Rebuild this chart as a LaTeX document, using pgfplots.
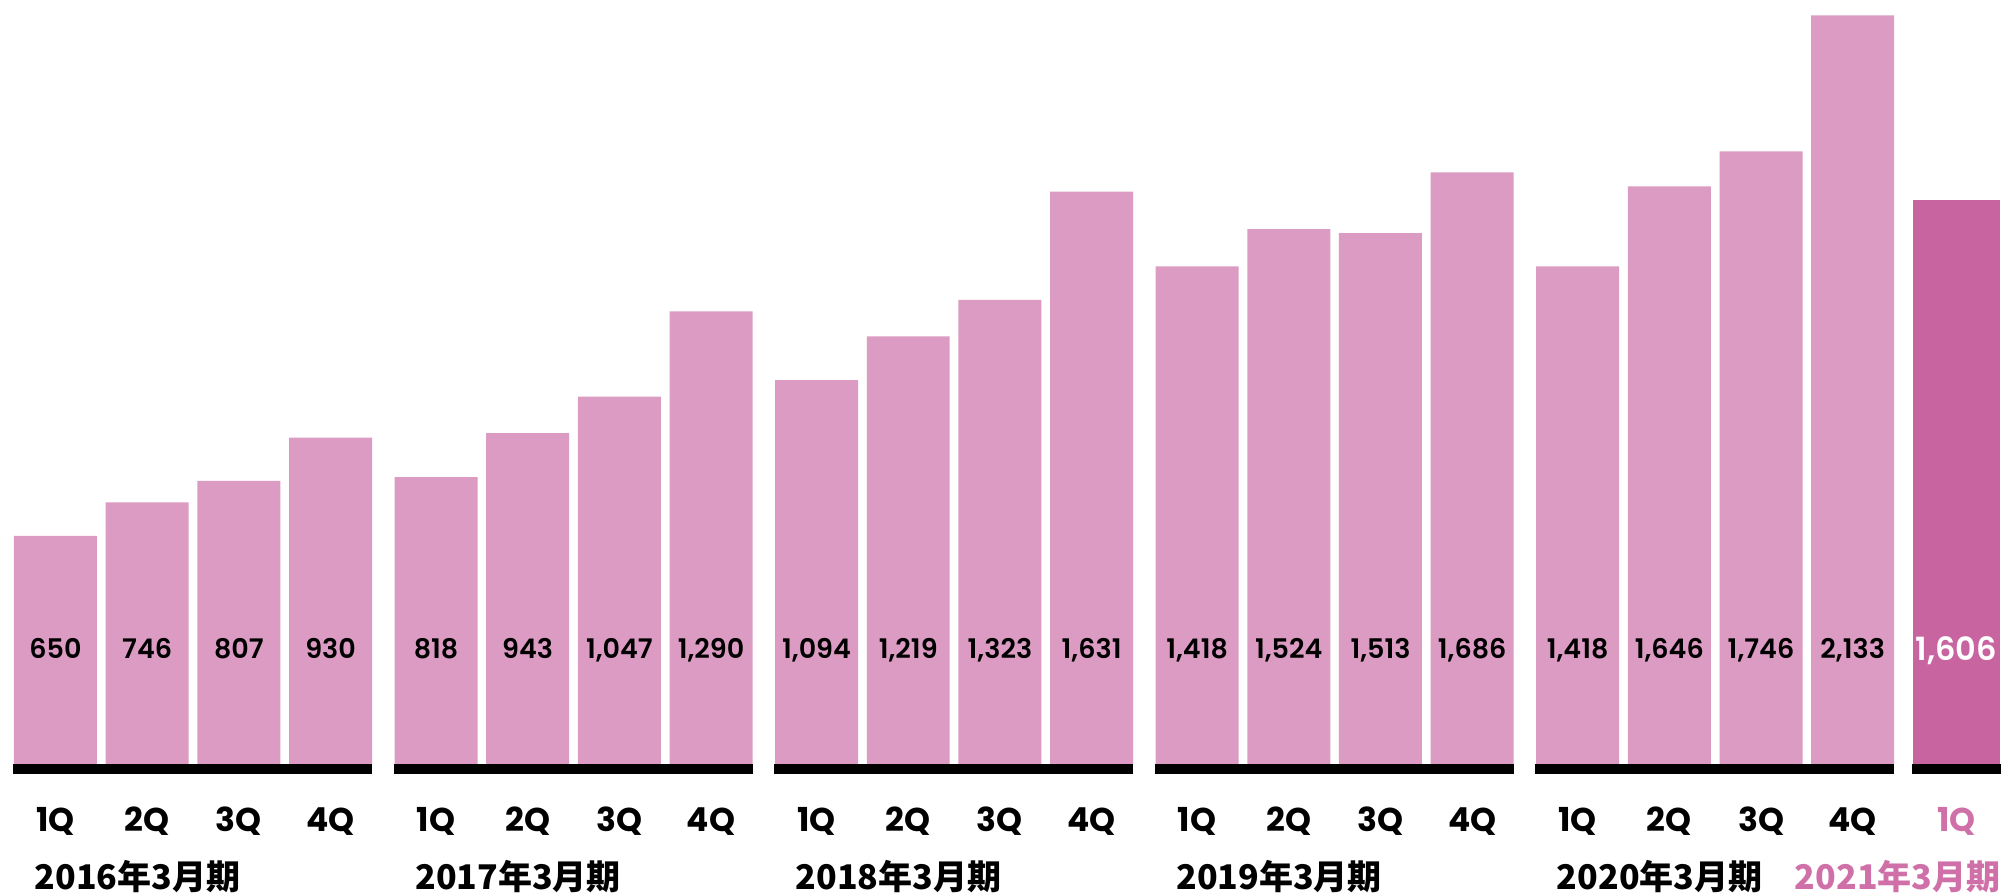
\documentclass[border=0pt]{standalone}
\usepackage{pgfplots}
\usepackage{pgfplotstable}
\pgfplotsset{compat=1.18}
\usepackage{fontspec}
\newfontfamily\pop{Poppins}
\newfontfamily\popm{Poppins}[UprightFont=* SemiBold, BoldFont=* SemiBold]
\newfontfamily\cjk{Noto Sans CJK JP}
\definecolor{barpink}{HTML}{DC9BC2}
\definecolor{lastpink}{HTML}{C864A0}
\definecolor{textpink}{HTML}{D070A8}

\pgfplotstableread{
x y q
0 650 1Q
1 746 2Q
2 807 3Q
3 930 4Q
4.15 818 1Q
5.15 943 2Q
6.15 1047 3Q
7.15 1290 4Q
8.3 1094 1Q
9.3 1219 2Q
10.3 1323 3Q
11.3 1631 4Q
12.45 1418 1Q
13.45 1524 2Q
14.45 1513 3Q
15.45 1686 4Q
16.6 1418 1Q
17.6 1646 2Q
18.6 1746 3Q
19.6 2133 4Q
}\bars

\pgfplotstableread{
x y q
20.73 1606 1Q
}\lastbar

\begin{document}
\begin{tikzpicture}
\begin{axis}[
  scale only axis, width=1002pt, height=446.5pt,
  xmin=-0.605, xmax=21.25, ymin=-367, ymax=2177,
  hide axis, clip=false,
  /pgf/number format/.cd, fixed, precision=0, 1000 sep={,}, assume math mode=true]
\addplot[ybar, bar width=0.905, bar shift=0pt, fill=barpink, draw=none] table[x=x,y=y]{\bars};
\addplot[ybar, bar width=0.95, bar shift=0pt, fill=lastpink, draw=none] table[x=x,y=y]{\lastbar};
% value labels
\addplot[only marks, mark=none, nodes near coords, point meta=explicit,
  every node near coord/.append style={anchor=base, inner sep=0pt, text=black, font=\popm\fontsize{13.5}{13.5}\selectfont}]
  table[x=x, y expr=302, meta=y]{\bars};
\addplot[only marks, mark=none, nodes near coords, point meta=explicit,
  every node near coord/.append style={anchor=base, inner sep=0pt, text=white, font=\popm\fontsize{16}{16}\selectfont}]
  table[x=x, y expr=296, meta=y]{\lastbar};
% quarter labels
\addplot[only marks, mark=none, nodes near coords, point meta=explicit symbolic,
  every node near coord/.append style={anchor=base, inner sep=0pt, text=black, font=\pop\bfseries\fontsize{16.5}{16.5}\selectfont}]
  table[x=x, y expr=-191, meta=q]{\bars};
\addplot[only marks, mark=none, nodes near coords, point meta=explicit symbolic,
  every node near coord/.append style={anchor=base, inner sep=0pt, text=textpink, font=\pop\bfseries\fontsize{16.5}{16.5}\selectfont}]
  table[x=x, y expr=-191, meta=q]{\lastbar};
% baselines
\draw[line width=5pt, black] (axis cs:-0.465,-14.2) -- (axis cs:3.4525,-14.2);
\draw[line width=5pt, black] (axis cs:3.6875,-14.2) -- (axis cs:7.6025,-14.2);
\draw[line width=5pt, black] (axis cs:7.8375,-14.2) -- (axis cs:11.7525,-14.2);
\draw[line width=5pt, black] (axis cs:11.9875,-14.2) -- (axis cs:15.9025,-14.2);
\draw[line width=5pt, black] (axis cs:16.1375,-14.2) -- (axis cs:20.0525,-14.2);
\draw[line width=5pt, black] (axis cs:20.245,-14.2) -- (axis cs:21.22,-14.2);
% year labels
\node[anchor=base west, inner sep=0pt, font=\cjk\bfseries\fontsize{17}{17}\selectfont] at (axis cs:-0.23,-356) {2016年3月期};
\node[anchor=base west, inner sep=0pt, font=\cjk\bfseries\fontsize{17}{17}\selectfont] at (axis cs:3.92,-356) {2017年3月期};
\node[anchor=base west, inner sep=0pt, font=\cjk\bfseries\fontsize{17}{17}\selectfont] at (axis cs:8.07,-356) {2018年3月期};
\node[anchor=base west, inner sep=0pt, font=\cjk\bfseries\fontsize{17}{17}\selectfont] at (axis cs:12.22,-356) {2019年3月期};
\node[anchor=base west, inner sep=0pt, font=\cjk\bfseries\fontsize{17}{17}\selectfont] at (axis cs:16.37,-356) {2020年3月期};
\node[anchor=base east, inner sep=0pt, text=textpink, font=\cjk\bfseries\fontsize{17}{17}\selectfont] at (axis cs:21.216,-356) {2021年3月期};
\end{axis}
\pgfresetboundingbox
\useasboundingbox (current axis.south west) rectangle (current axis.north east);
\end{tikzpicture}
\end{document}
